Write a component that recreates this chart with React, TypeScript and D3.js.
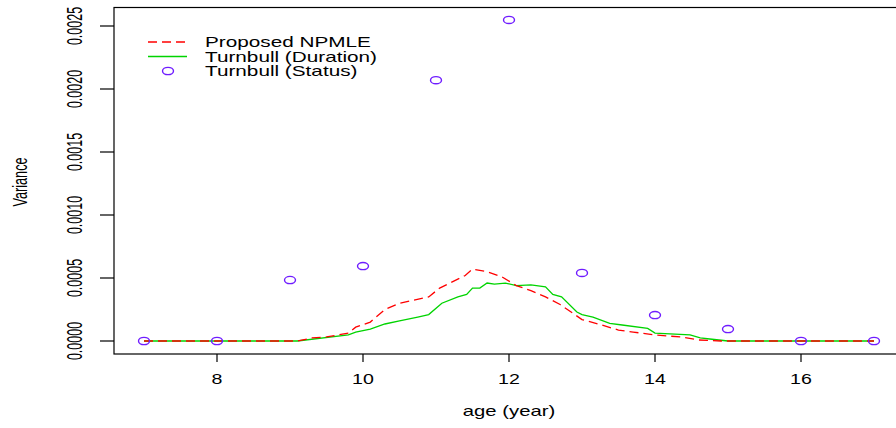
import React from "react";
import * as d3 from "d3";

const statusAges = [7, 8, 9, 10, 11, 12, 13, 14, 15, 16, 17];
const statusVar = [0, 0, 0.000484, 0.000595, 0.00207, 0.002548, 0.00054, 0.000206, 0.000095, 0, 0];

const npmleAges = [7, 9.1, 9.3, 9.5, 9.8, 9.9, 10.1, 10.3, 10.5, 10.9, 11.05, 11.4, 11.5, 11.7, 11.9, 12.1, 12.3, 12.5, 12.7, 12.9, 13.0, 13.25, 13.5, 13.7, 14.0, 14.35, 14.6, 14.9, 17];
const npmleVar = [0, 0, 0.000024, 0.000032, 0.000063, 0.00011, 0.00015, 0.00025, 0.0003, 0.00035, 0.00042, 0.00052, 0.00057, 0.00055, 0.00051, 0.00044, 0.0004, 0.00035, 0.00029, 0.00021, 0.00017, 0.00013, 0.000087, 0.000071, 0.000048, 0.000032, 0.000008, 0, 0];

const durAges = [7, 9.1, 9.8, 9.9, 10.1, 10.3, 10.5, 10.75, 10.9, 11.08, 11.3, 11.42, 11.5, 11.6, 11.7, 11.8, 11.95, 12.1, 12.3, 12.5, 12.6, 12.72, 12.93, 13.0, 13.15, 13.38, 13.55, 13.9, 14.0, 14.48, 14.62, 14.75, 15.0, 17];
const durVar = [0, 0, 0.000048, 0.00007, 0.000095, 0.000135, 0.00016, 0.00019, 0.00021, 0.0003, 0.00035, 0.00037, 0.00042, 0.00042, 0.00046, 0.000452, 0.00046, 0.00044, 0.000445, 0.00043, 0.00037, 0.00035, 0.00023, 0.00021, 0.00019, 0.00014, 0.000127, 0.0001, 0.000063, 0.000048, 0.000024, 0.000016, 0, 0];

const xTicks = [8, 10, 12, 14, 16];
const yTicks = [0, 0.0005, 0.001, 0.0015, 0.002, 0.0025];
const yTickLabels = ["0.0000", "0.0005", "0.0010", "0.0015", "0.0020", "0.0025"];
const legendLabels = ["Proposed NPMLE", "Turnbull (Duration)", "Turnbull (Status)"];

const RED = "#ff0000";
const GREEN = "#00d400";
const PURPLE = "#6f1cff";
const FONT = "'Liberation Sans', Arial, Helvetica, sans-serif";

export default function App() {
  const x = d3.scaleLinear().domain([7, 17]).range([144, 874]);
  const y = d3.scaleLinear().domain([0, 0.0025]).range([341, 26]);

  const line = d3
    .line<[number, number]>()
    .x((d) => x(d[0]))
    .y((d) => y(d[1]));

  const npmle = line(npmleAges.map((a, i) => [a, npmleVar[i]] as [number, number])) || "";
  const dur = line(durAges.map((a, i) => [a, durVar[i]] as [number, number])) || "";

  const SX = 1.45;

  return (
    <svg
      width={896}
      height={428}
      style={{ position: "absolute", left: 0, top: 0, background: "#fff" }}
      fontFamily={FONT}
    >
      <rect x={0} y={0} width={896} height={428} fill="#fff" />
      {/* plot box */}
      <rect x={114} y={7.5} width={800} height={346.5} fill="none" stroke="#000" strokeWidth={1.2} />

      {/* y axis ticks and labels */}
      {yTicks.map((t, i) => (
        <g key={"y" + i}>
          <line x1={100} x2={114} y1={y(t)} y2={y(t)} stroke="#000" strokeWidth={1.2} />
          <text
            transform={`translate(82,${y(t)}) scale(1.7,1) rotate(-90)`}
            textAnchor="middle"
            fontSize={12.5}
            fill="#000"
          >
            {yTickLabels[i]}
          </text>
        </g>
      ))}
      <text
        transform={`translate(26.5,182) scale(1.65,1) rotate(-90)`}
        textAnchor="middle"
        fontSize={12.7}
        fill="#000"
      >
        Variance
      </text>

      {/* x axis ticks and labels */}
      {xTicks.map((t) => (
        <g key={"x" + t}>
          <line x1={x(t)} x2={x(t)} y1={354} y2={362} stroke="#000" strokeWidth={1.2} />
          <text
            transform={`translate(${x(t)},384) scale(1.4,1)`}
            textAnchor="middle"
            fontSize={14}
            fill="#000"
          >
            {t}
          </text>
        </g>
      ))}
      <text
        transform={`translate(509,416) scale(${SX},1)`}
        textAnchor="middle"
        fontSize={14}
        fill="#000"
      >
        age (year)
      </text>

      {/* lines */}
      <path d={dur} fill="none" stroke={GREEN} strokeWidth={1.3} />
      <path d={npmle} fill="none" stroke={RED} strokeWidth={1.3} strokeDasharray="9,5" />

      {/* status points */}
      {statusAges.map((a, i) => (
        <ellipse
          key={"p" + i}
          cx={x(a)}
          cy={y(statusVar[i])}
          rx={5.5}
          ry={3.6}
          fill="none"
          stroke={PURPLE}
          strokeWidth={1.4}
        />
      ))}

      {/* legend */}
      <line x1={148} x2={187} y1={42} y2={42} stroke={RED} strokeWidth={1.3} strokeDasharray="9,5" />
      <line x1={148} x2={187} y1={56.5} y2={56.5} stroke={GREEN} strokeWidth={1.3} />
      <ellipse cx={168} cy={71} rx={5.5} ry={3.6} fill="none" stroke={PURPLE} strokeWidth={1.4} />
      {legendLabels.map((l, i) => (
        <text
          key={l}
          transform={`translate(205,${47 + i * 14.5}) scale(1.44,1)`}
          fontSize={14.4}
          fill="#000"
        >
          {l}
        </text>
      ))}
    </svg>
  );
}
